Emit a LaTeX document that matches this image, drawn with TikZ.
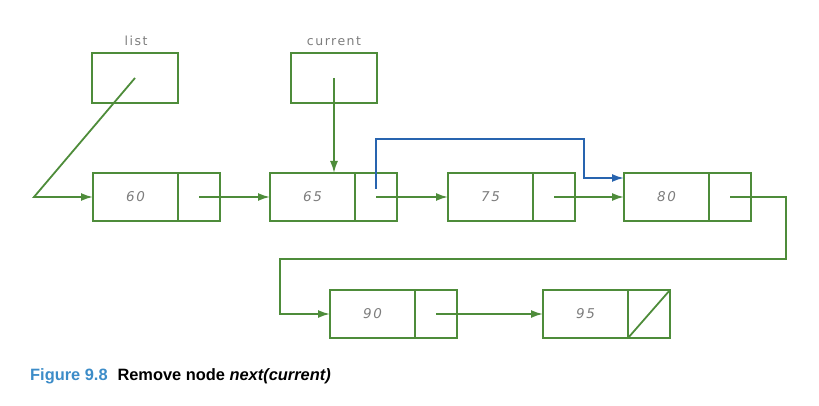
\documentclass[tikz,border=0pt]{standalone}
\usepackage{fontspec}
\setmainfont{Liberation Sans}
\newfontfamily\handfont[LetterSpace=12]{DejaVu Sans}
\usetikzlibrary{arrows.meta,calc}
\definecolor{linkgreen}{RGB}{78,140,58}
\definecolor{linkblue}{RGB}{40,100,175}
\definecolor{capblue}{RGB}{60,140,200}
\definecolor{valgray}{RGB}{125,125,125}
\begin{document}
\begin{tikzpicture}[x=1pt,y=-1pt,
  datapart/.style={draw=linkgreen,line width=1.8pt,outer sep=0pt,minimum width=85pt,minimum height=48pt,
    inner sep=0pt,anchor=west,text=valgray,font=\handfont\itshape\fontsize{13.5}{13.5}\selectfont},
  ptrpart/.style={draw=linkgreen,line width=1.8pt,outer sep=0pt,minimum width=42pt,minimum height=48pt,
    inner sep=0pt,anchor=west},
  varbox/.style={draw=linkgreen,line width=1.8pt,outer sep=0pt,minimum width=86pt,minimum height=50pt,inner sep=0pt},
  varlabel/.style={text=valgray,font=\handfont\fontsize{12.5}{12.5}\selectfont,inner sep=1pt},
  headtip/.style={-{Latex[length=12pt,width=8pt]}},
  link/.style={draw=linkgreen,line width=1.8pt,headtip},
  newlink/.style={draw=linkblue,line width=1.8pt,headtip},
]
\useasboundingbox (0,0) rectangle (819,406);

% external pointers
\node[varbox] (list) at (135,78) {};
\node[varlabel,anchor=base] (listlbl) at (136,46) {list};
\node[varbox] (current) at (334,78) {};
\node[varlabel,anchor=base] (curlbl) at (334,46) {current};

% first row of list nodes
\node[datapart] (n60) at (93,197) {60};
\node[ptrpart] (p60) at (n60.east) {};
\node[datapart] (n65) at (270,197) {65};
\node[ptrpart] (p65) at (n65.east) {};
\node[datapart] (n75) at (448,197) {75};
\node[ptrpart] (p75) at (n75.east) {};
\node[datapart] (n80) at (624,197) {80};
\node[ptrpart] (p80) at (n80.east) {};

% second row of list nodes
\node[datapart] (n90) at (330,314) {90};
\node[ptrpart] (p90) at (n90.east) {};
\node[datapart] (n95) at (543,314) {95};
\node[ptrpart] (p95) at (n95.east) {};
\draw[linkgreen,line width=1.8pt] (p95.south west) -- (p95.north east);

% routing points
\coordinate (listbend) at (34,197);
\coordinate (bypass) at (584,139);
\coordinate (wrapA) at (786,197);
\coordinate (wrapB) at (786,259);
\coordinate (wrapC) at (280,259);
\coordinate (wrapD) at (280,314);

% links
\draw[link] (list.center) -- (listbend) -- (n60.west);
\draw[link] (current.center) -- (current.center |- n65.north);
\draw[link] (p60.center) -- (n65.west);
\draw[link] (p65.center) -- (n75.west);
\draw[link] (p75.center) -- (n80.west);
\draw[link] (p80.center) -- (wrapA) -- (wrapB) -- (wrapC) -- (wrapD) -- (n90.west);
\draw[link] (p90.center) -- (n95.west);

% bypassing link that removes node 75
\draw[newlink] ($(p65.center)+(0,-8)$) |- (bypass) |- ($(n80.west)+(0,-19)$);

% caption
\node[anchor=base west,inner sep=0pt,font=\bfseries\fontsize{16.4}{16.4}\selectfont] (caption) at (30,380)
  {\textcolor{capblue}{Figure 9.8}\hspace{0.6em}Remove node \textit{next(current)}};
\end{tikzpicture}
\end{document}
